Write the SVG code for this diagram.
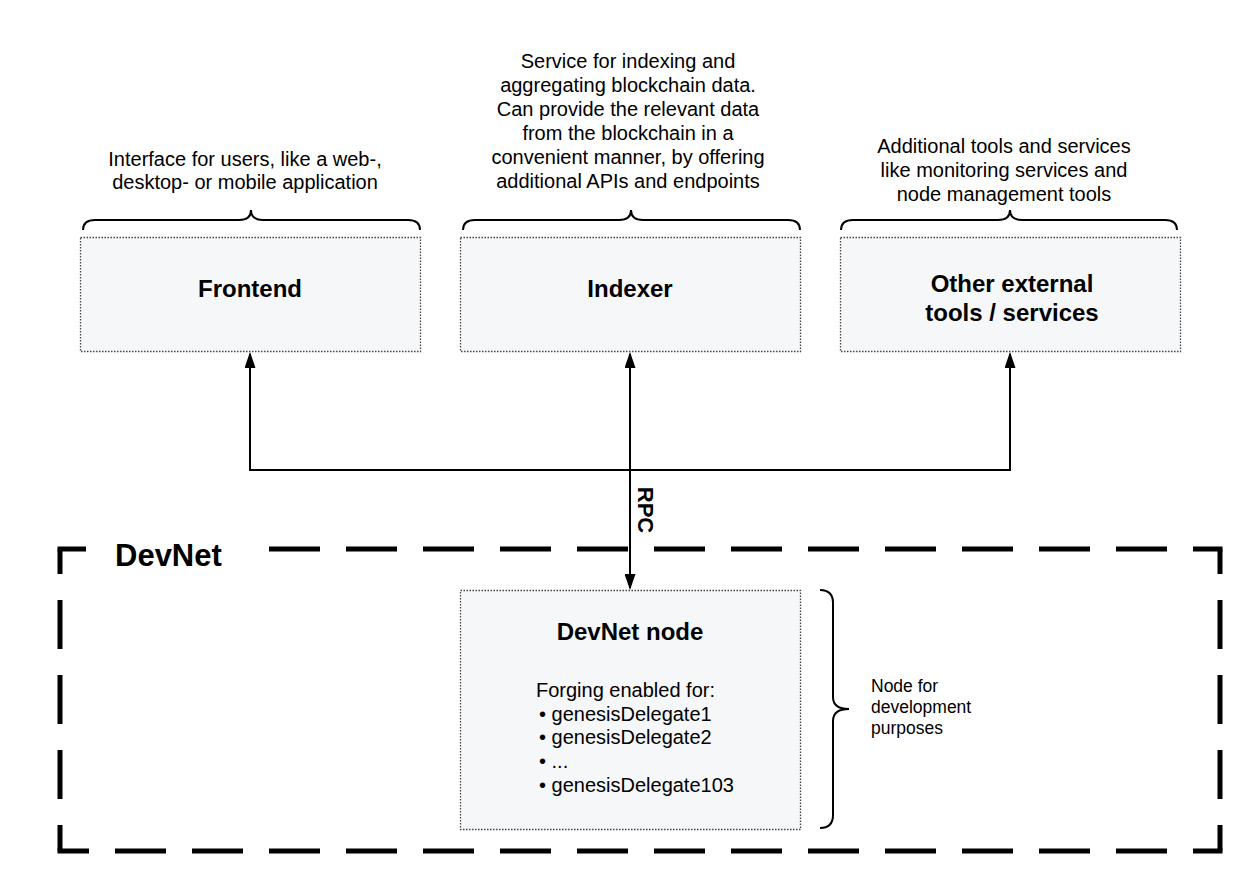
<svg xmlns="http://www.w3.org/2000/svg" width="1260" height="890" viewBox="0 0 1260 890">
<style>
.box{fill:#f6f7f9;stroke:#444;stroke-width:1.3;stroke-dasharray:1.5 1.5}
.t{font-family:"Liberation Sans",Arial,sans-serif;font-size:20px;fill:#000}
.c{text-anchor:middle}
.b{font-weight:bold;font-size:24px}
.brace{fill:none;stroke:#000;stroke-width:2}
.conn{fill:none;stroke:#000;stroke-width:2}
.frame{fill:none;stroke:#000;stroke-width:5}
</style>
<defs>
<marker id="arr" viewBox="0 0 16 11" refX="14" refY="5.5" markerWidth="16" markerHeight="11" markerUnits="userSpaceOnUse" orient="auto-start-reverse">
<path d="M0,0 L16,5.5 L0,11 z" fill="#000"/>
</marker>
</defs>
<rect width="1260" height="890" fill="#fff"/>

<g id="devnet">
<path class="frame" d="M57.5,549 H86"/>
<path class="frame" d="M269,549 H1222.5" stroke-dasharray="51 26"/>
<path class="frame" d="M57.5,851 H1222.5" stroke-dasharray="51 26" stroke-dashoffset="19.5"/>
<path class="frame" d="M60,549 V851" stroke-dasharray="49 26" stroke-dashoffset="24"/>
<path class="frame" d="M1220,549 V851" stroke-dasharray="49 26" stroke-dashoffset="24"/>
<text class="t" x="115" y="566" style="font-weight:bold;font-size:31px">DevNet</text>
</g>

<g id="frontend">
<text class="t c" x="245"><tspan x="245" y="166">Interface for users, like a web-,</tspan><tspan x="245" y="189">desktop- or mobile application</tspan></text>
<path class="brace" d="M83,230 Q83,220 95,220 H239 Q251,220 251,210 Q251,220 263,220 H408 Q420,220 420,230"/>
<rect class="box" x="80.5" y="237.5" width="340" height="114"/>
<text class="t c b" x="250" y="297">Frontend</text>
</g>

<g id="indexer">
<text class="t c"><tspan x="628" y="68">Service for indexing and</tspan><tspan x="628" y="92">aggregating blockchain data.</tspan><tspan x="628" y="116">Can provide the relevant data</tspan><tspan x="628" y="140">from the blockchain in a</tspan><tspan x="628" y="164">convenient manner, by offering</tspan><tspan x="628" y="188">additional APIs and endpoints</tspan></text>
<path class="brace" d="M463,230 Q463,220 475,220 H619 Q631,220 631,210 Q631,220 643,220 H788 Q800,220 800,230"/>
<rect class="box" x="460.5" y="237.5" width="340" height="114"/>
<text class="t c b" x="630" y="297">Indexer</text>
</g>

<g id="other">
<text class="t c"><tspan x="1004" y="153">Additional tools and services</tspan><tspan x="1004" y="177">like monitoring services and</tspan><tspan x="1004" y="201">node management tools</tspan></text>
<path class="brace" d="M841,230 Q841,220 853,220 H998 Q1010,220 1010,210 Q1010,220 1022,220 H1165 Q1177,220 1177,230"/>
<rect class="box" x="840.5" y="237.5" width="340" height="114"/>
<text class="t c b"><tspan x="1012" y="292">Other external</tspan><tspan x="1012" y="321">tools / services</tspan></text>
</g>

<g id="devnet-node">
<rect class="box" x="460.5" y="590.5" width="340" height="239"/>
<text class="t c b" x="630" y="640">DevNet node</text>
<text class="t" x="536" y="697">Forging enabled for:</text>
<text class="t" x="539" y="721">• genesisDelegate1</text>
<text class="t" x="539" y="744">• genesisDelegate2</text>
<text class="t" x="539" y="768">• ...</text>
<text class="t" x="539" y="792">• genesisDelegate103</text>
<path class="brace" d="M820,590 Q833,590 833,603 V697 Q833,709 849,709 Q833,709 833,721 V815 Q833,828 820,828"/>
<text class="t" style="font-size:17.5px"><tspan x="871" y="692">Node for</tspan><tspan x="871" y="713">development</tspan><tspan x="871" y="734">purposes</tspan></text>
</g>

<g id="connectors">
<path class="conn" d="M250,354 V470 H1010 V354" marker-start="url(#arr)" marker-end="url(#arr)"/>
<path class="conn" d="M630,354 V588" marker-start="url(#arr)" marker-end="url(#arr)"/>
<text class="t" transform="translate(638,510) rotate(90)" text-anchor="middle" style="font-weight:bold;font-size:22px">RPC</text>
</g>
</svg>
